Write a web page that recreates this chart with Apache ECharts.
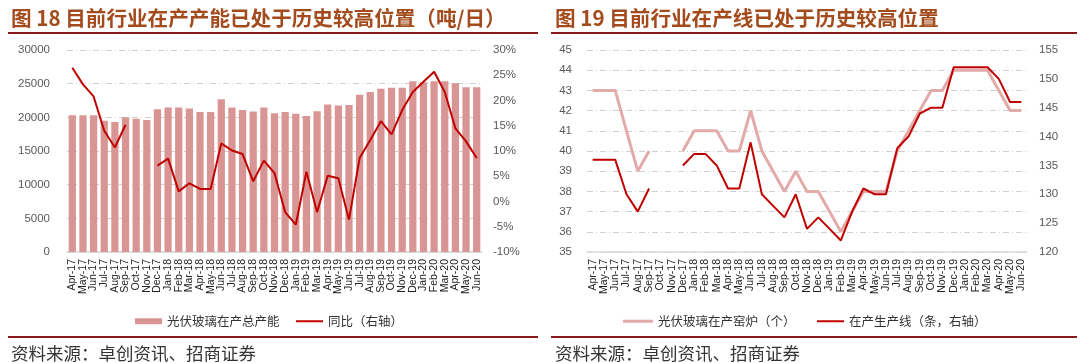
<!DOCTYPE html>
<html>
<head>
<meta charset="utf-8">
<script src="https://cdn.jsdelivr.net/npm/echarts@6/dist/echarts.min.js"></script>
<style>
html,body{margin:0;padding:0;background:#fff;}
#c{width:1080px;height:363px;}
</style>
</head>
<body>
<div id="c"></div>
<script>
const categories = ['Apr-17','May-17','Jun-17','Jul-17','Aug-17','Sep-17','Oct-17','Nov-17','Dec-17',
  'Jan-18','Feb-18','Mar-18','Apr-18','May-18','Jun-18','Jul-18','Aug-18','Sep-18','Oct-18','Nov-18','Dec-18',
  'Jan-19','Feb-19','Mar-19','Apr-19','May-19','Jun-19','Jul-19','Aug-19','Sep-19','Oct-19','Nov-19','Dec-19',
  'Jan-20','Feb-20','Mar-20','Apr-20','May-20','Jun-20'];
// chart 18: capacity (t/day) and YoY (%)
const capacity = [20300,20300,20300,19500,19300,20000,19800,19600,21200,21450,21450,21300,20800,20800,22700,21450,21100,20850,21450,20600,20800,20550,20200,20900,21900,21750,21850,23370,23770,24260,24400,24400,25350,25200,25350,25350,25050,24450,24450];
const yoy = [26.5,23.2,20.8,14.0,10.7,15.2,null,null,7.1,8.5,2.0,3.6,2.5,2.5,11.5,10.1,9.4,4.0,8.1,5.6,-2.1,-4.6,5.9,-2.1,5.1,4.6,-3.6,8.6,12.2,15.9,13.3,18.1,21.7,23.7,25.7,21.7,14.5,11.9,8.6];
// chart 19: furnaces (count) and production lines (count, right axis)
const furnaces = [43,43,43,41,39,40,null,null,40,41,41,41,40,40,42,40,39,38,39,38,38,37,36,37,38,38,38,40,41,42,43,43,44,44,44,44,43,42,42];
const lines = [136,136,136,130,127,131,null,null,135,137,137,135,131,131,139,130,128,126,130,124,126,124,122,127,131,130,130,138,140,144,145,145,152,152,152,152,150,146,146];

const title18 = '图 18 目前行业在产产能已处于历史较高位置（吨/日）';
const title19 = '图 19 目前行业在产线已处于历史较高位置';
const source = '资料来源：卓创资讯、招商证券';
const names = ['光伏玻璃在产总产能','同比（右轴）','光伏玻璃在产窑炉（个）','在产生产线（条，右轴）'];

const FONT = '"Noto Sans CJK SC", "Noto Sans", sans-serif';
const gridLine = {show:true, lineStyle:{color:'#d0d0d0', type:[6,3,1,3], width:1}};
const xAxisBase = (gi) => ({
  type:'category', gridIndex:gi, data:categories, boundaryGap:true,
  axisLine:{lineStyle:{color:'#d9d9d9', width:1.5}}, axisTick:{show:false},
  axisLabel:{interval:0, rotate:90, fontSize:10.5, color:'#222', fontFamily:'"Liberation Sans", Arial, sans-serif', margin:7}
});
const yLabel = {fontSize:11.5, color:'#595959', fontFamily:'"Liberation Sans", Arial, sans-serif'};

const chart = echarts.init(document.getElementById('c'));
chart.setOption({
  animation:false,
  textStyle:{fontFamily:FONT},
  title:[
    {text:title18, left:6, top:3, textStyle:{color:'#a34b1d', fontSize:20.6, fontWeight:'bold', fontFamily:FONT}},
    {text:title19, left:550, top:3, textStyle:{color:'#a34b1d', fontSize:20.6, fontWeight:'bold', fontFamily:FONT}},
    {text:source, left:6, top:340, textStyle:{color:'#333', fontSize:17.5, fontWeight:'normal', fontFamily:FONT}},
    {text:source, left:550, top:340, textStyle:{color:'#333', fontSize:17.5, fontWeight:'normal', fontFamily:FONT}}
  ],
  graphic:[
    {type:'line', shape:{x1:8,y1:33,x2:538,y2:33}, style:{stroke:'#8b1a1a', lineWidth:2}},
    {type:'line', shape:{x1:551,y1:33,x2:1077,y2:33}, style:{stroke:'#8b1a1a', lineWidth:2}},
    {type:'line', shape:{x1:8,y1:337,x2:538,y2:337}, style:{stroke:'#8b1a1a', lineWidth:2}},
    {type:'line', shape:{x1:551,y1:337,x2:1077,y2:337}, style:{stroke:'#8b1a1a', lineWidth:2}}
  ],
  legend:[
    {data:[names[0]], left:130, top:310, itemWidth:27, itemHeight:6, icon:'rect', itemGap:6,
      textStyle:{fontSize:12.5, color:'#333'}},
    {data:[names[1]], left:291, top:310, itemWidth:27, itemHeight:2, icon:'rect',
      textStyle:{fontSize:12.5, color:'#333'}},
    {data:[names[2]], left:618, top:310, itemWidth:30, itemHeight:3, icon:'rect',
      textStyle:{fontSize:12.5, color:'#333'}},
    {data:[names[3]], left:812, top:310, itemWidth:27, itemHeight:2, icon:'rect',
      textStyle:{fontSize:12.5, color:'#333'}}
  ],
  grid:[
    {left:67, right:598, top:50, bottom:111},
    {left:587, right:53, top:50, bottom:111}
  ],
  xAxis:[xAxisBase(0), xAxisBase(1)],
  yAxis:[
    {type:'value', gridIndex:0, min:0, max:30000, interval:5000, position:'left',
      axisLine:{show:false}, axisTick:{show:false},
      axisLabel:Object.assign({}, yLabel, {margin:17, formatter:(v)=>String(v)}), splitLine:gridLine},
    {type:'value', gridIndex:0, min:-10, max:30, interval:5, position:'right',
      axisLine:{show:false}, axisTick:{show:false},
      axisLabel:Object.assign({}, yLabel, {margin:11, formatter:'{value}%'}), splitLine:{show:false}},
    {type:'value', gridIndex:1, min:35, max:45, interval:1, position:'left',
      axisLine:{show:false}, axisTick:{show:false},
      axisLabel:Object.assign({}, yLabel, {margin:15}), splitLine:gridLine},
    {type:'value', gridIndex:1, min:120, max:155, interval:5, position:'right',
      axisLine:{show:false}, axisTick:{show:false},
      axisLabel:Object.assign({}, yLabel, {margin:12}), splitLine:{show:false}}
  ],
  series:[
    {name:names[0], type:'bar', xAxisIndex:0, yAxisIndex:0, data:capacity, barWidth:'68%',
      itemStyle:{color:'#d99594'}},
    {name:names[1], type:'line', xAxisIndex:0, yAxisIndex:1, data:yoy, symbol:'none', connectNulls:false,
      lineStyle:{color:'#c00000', width:2}, itemStyle:{color:'#c00000'}},
    {name:names[2], type:'line', xAxisIndex:1, yAxisIndex:2, data:furnaces, symbol:'none', connectNulls:false,
      lineStyle:{color:'#e2aaa9', width:3}, itemStyle:{color:'#e2aaa9'}},
    {name:names[3], type:'line', xAxisIndex:1, yAxisIndex:3, data:lines, symbol:'none', connectNulls:false,
      lineStyle:{color:'#c00000', width:2}, itemStyle:{color:'#c00000'}}
  ]
});
</script>
</body>
</html>
